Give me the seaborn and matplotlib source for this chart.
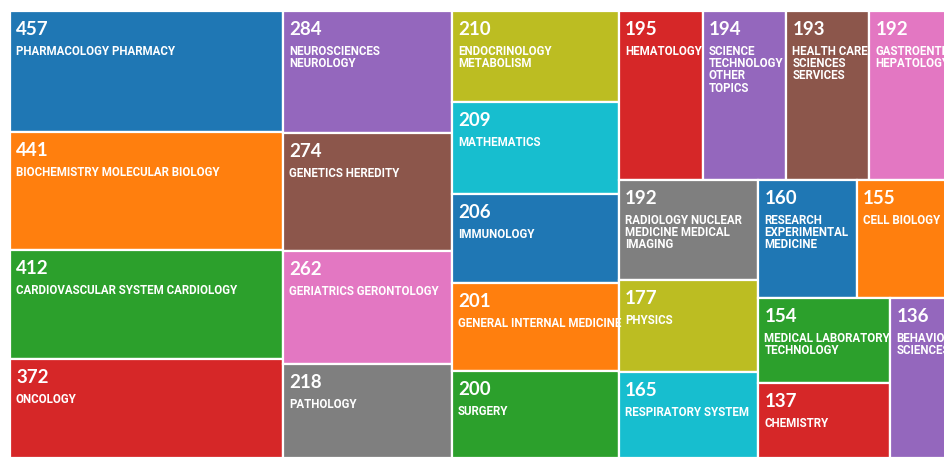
import matplotlib
matplotlib.use("Agg")
import matplotlib.pyplot as plt
from matplotlib.patches import Rectangle
import seaborn as sns

# ---------------- data ----------------
counts = [457, 441, 412, 372, 284, 274, 262, 218, 210, 209, 206, 201, 200,
          195, 194, 193, 192, 192, 177, 165, 160, 155, 154, 137, 136]
categories = [
    "PHARMACOLOGY PHARMACY",
    "BIOCHEMISTRY MOLECULAR BIOLOGY",
    "CARDIOVASCULAR SYSTEM CARDIOLOGY",
    "ONCOLOGY",
    "NEUROSCIENCES\nNEUROLOGY",
    "GENETICS HEREDITY",
    "GERIATRICS GERONTOLOGY",
    "PATHOLOGY",
    "ENDOCRINOLOGY\nMETABOLISM",
    "MATHEMATICS",
    "IMMUNOLOGY",
    "GENERAL INTERNAL MEDICINE",
    "SURGERY",
    "HEMATOLOGY",
    "SCIENCE\nTECHNOLOGY\nOTHER\nTOPICS",
    "HEALTH CARE\nSCIENCES\nSERVICES",
    "GASTROENTEROLOGY\nHEPATOLOGY",
    "RADIOLOGY NUCLEAR\nMEDICINE MEDICAL\nIMAGING",
    "PHYSICS",
    "RESPIRATORY SYSTEM",
    "RESEARCH\nEXPERIMENTAL\nMEDICINE",
    "CELL BIOLOGY",
    "MEDICAL LABORATORY\nTECHNOLOGY",
    "CHEMISTRY",
    "BEHAVIORAL\nSCIENCES",
]

# ---------------- layout parameters ----------------
strip_lengths = [4, 4, 5, 4, 3, 2, 2, 1]   # items per strip of the treemap
canvas = (10, 11, 942, 447)               # x, y, width, height (pixel units)

sns.set_style("white")
palette = sns.color_palette("tab10")

def strip_layout(values, x, y, w, h, strips):
    rects = []
    i = 0
    for n in strips:
        grp = values[i:i + n]
        s = float(sum(grp))
        rem = float(sum(values[i:]))
        if w >= h:  # vertical strip on the left
            cw = w * s / rem
            yy = y
            for v in grp:
                hh = h * v / s
                rects.append((x, yy, cw, hh))
                yy += hh
            x += cw
            w -= cw
        else:       # horizontal strip on top
            rh = h * s / rem
            xx = x
            for v in grp:
                ww = w * v / s
                rects.append((xx, y, ww, rh))
                xx += ww
            y += rh
            h -= rh
        i += n
    return rects

W_PX, H_PX = 944, 457
fig = plt.figure(figsize=(W_PX / 100, H_PX / 100), dpi=100)
ax = fig.add_axes([0, 0, 1, 1])
ax.set_xlim(0, W_PX)
ax.set_ylim(H_PX, 0)
ax.axis("off")

rects = strip_layout(counts, *canvas, strip_lengths)
num_font = ["Lato", "DejaVu Sans"]
lab_font = ["Liberation Sans Narrow", "Roboto", "DejaVu Sans"]

for k, ((x, y, w, h), v, lab) in enumerate(zip(rects, counts, categories)):
    col = palette[k % len(palette)]
    r = Rectangle((x, y), w, h, facecolor=col, edgecolor="white", linewidth=1.6)
    ax.add_patch(r)
    t1 = ax.text(x + 6, y + 10, str(v), color="white", fontsize=13.5,
                 fontweight="bold", family=num_font, ha="left", va="top")
    t2 = ax.text(x + 6, y + 34, lab, color="white", fontsize=8.3,
                 fontweight="bold", family=lab_font, ha="left", va="top",
                 linespacing=0.92)
    t1.set_clip_path(r)
    t2.set_clip_path(r)

fig.savefig("out.png", dpi=100, facecolor="white")
